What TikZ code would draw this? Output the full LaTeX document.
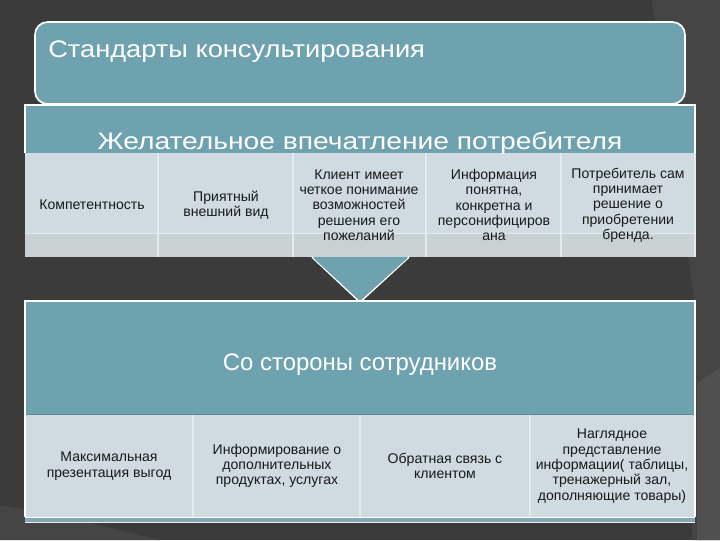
\documentclass[tikz,border=0pt]{standalone}
\usepackage{fontspec}
\setmainfont{Liberation Sans}
\newfontfamily\titlefontA[FakeStretch=1.14]{Liberation Sans}
\newfontfamily\titlefontB[FakeStretch=1.18]{Liberation Sans}
\definecolor{bgdark}{HTML}{3B3B3B}
\definecolor{bgmid}{HTML}{454545}
\definecolor{bglight}{HTML}{505050}
\definecolor{teal}{HTML}{6FA2AF}
\definecolor{cellc}{HTML}{CFDBE1}
\definecolor{cellrow}{HTML}{C8D2D3}
\definecolor{divc}{HTML}{E2EAEE}
\definecolor{barc}{HTML}{84A6B7}
\begin{document}
\begin{tikzpicture}[x=0.025cm,y=-0.025cm,
  title/.style={text=white,font=\fontsize{17}{20}\selectfont,inner sep=0pt},
  celltext/.style={text=black!90,font=\fontsize{10}{10.9}\selectfont,align=center,inner sep=0pt},
  whiteline/.style={draw=white,line width=0.9pt}]
% background
\fill[bgdark] (0,0) rectangle (720,540);
\useasboundingbox (0,0) rectangle (720,540);
\fill[bgmid] (652,0) -- (720,0) -- (720,540) -- (692,540) -- (694,300) -- cycle;
\fill[bglight] (697,383) -- (720,368) -- (720,540) -- (697,540) -- cycle;
\fill[bgmid] (0,505) .. controls (60,515) and (120,530) .. (160,540) -- (0,540) -- cycle;
% top rounded box
\draw[draw=white,line width=1.2pt,fill=teal,rounded corners=9pt] (35,22) rectangle (685,104);
\coordinate (topbox) at (360,63);
\node[title,font=\titlefontA\fontsize{17}{20}\selectfont,anchor=base west] (toptitle) at (48,57) {Стандарты консультирования};
% band 2
\fill[teal] (25,105) rectangle (695,153);
\fill[cellc] (25,153) rectangle (695,233);
\fill[cellrow] (25,233) rectangle (695,257);
\draw[divc,line width=0.6pt] (25,233) -- (695,233);
\foreach \xx in {158,293,426,561} \draw[divc,line width=0.8pt] (\xx,153) -- (\xx,257);
\draw[whiteline] (25,153) -- (25,105) -- (695,105) -- (695,153);
\draw[divc,line width=0.8pt] (695,153) -- (695,257);
\node[title,font=\titlefontB\fontsize{17}{20}\selectfont,anchor=base] (t2) at (360,149.5) {Желательное впечатление потребителя};
\node[celltext] (c1) at (92,205) {Компетентность};
\node[celltext] (c2) at (226,205) {Приятный\\внешний вид};
\node[celltext] (c3) at (359,205) {Клиент имеет\\четкое понимание\\возможностей\\решения его\\пожеланий};
\node[celltext] (c4) at (494,205) {Информация\\понятна,\\конкретна и\\персонифициров\\ана};
\node[celltext] (c5) at (628,205) {Потребитель сам\\принимает\\решение о\\приобретении\\бренда.};
% arrow triangle
\draw[fill=teal,draw=white,line width=1.2pt,line join=miter] (312,257) -- (360,302) -- (409,257);
\fill[teal] (313,257.6) -- (360,301) -- (408,257.6) -- cycle;
% band 3
\fill[teal] (25,301) rectangle (695,415);
\fill[cellc] (25,415) rectangle (695,517);
\foreach \xx in {193,360,530} \draw[divc,line width=0.8pt] (\xx,415) -- (\xx,517);
\draw[teal!85!black,line width=0.5pt] (25,414) -- (695,414);
\draw[whiteline] (25,517) -- (25,301) -- (695,301) -- (695,517);
\fill[barc] (25,517.5) rectangle (695,521.5);
\draw[white,line width=0.7pt] (25,517.2) -- (695,517.2);
\draw[white!85!gray,line width=0.7pt] (25,522) -- (695,522);
\node[title,anchor=base] (t3) at (360,370) {Со стороны сотрудников};
\node[celltext] (d1) at (109,466) {Максимальная\\презентация выгод};
\node[celltext] (d2) at (277,466) {Информирование о\\дополнительных\\продуктах, услугах};
\node[celltext] (d3) at (445,466) {Обратная связь с\\клиентом};
\node[celltext] (d4) at (612,466) {Наглядное\\представление\\информации( таблицы,\\тренажерный зал,\\дополняющие товары)};
\end{tikzpicture}
\end{document}
